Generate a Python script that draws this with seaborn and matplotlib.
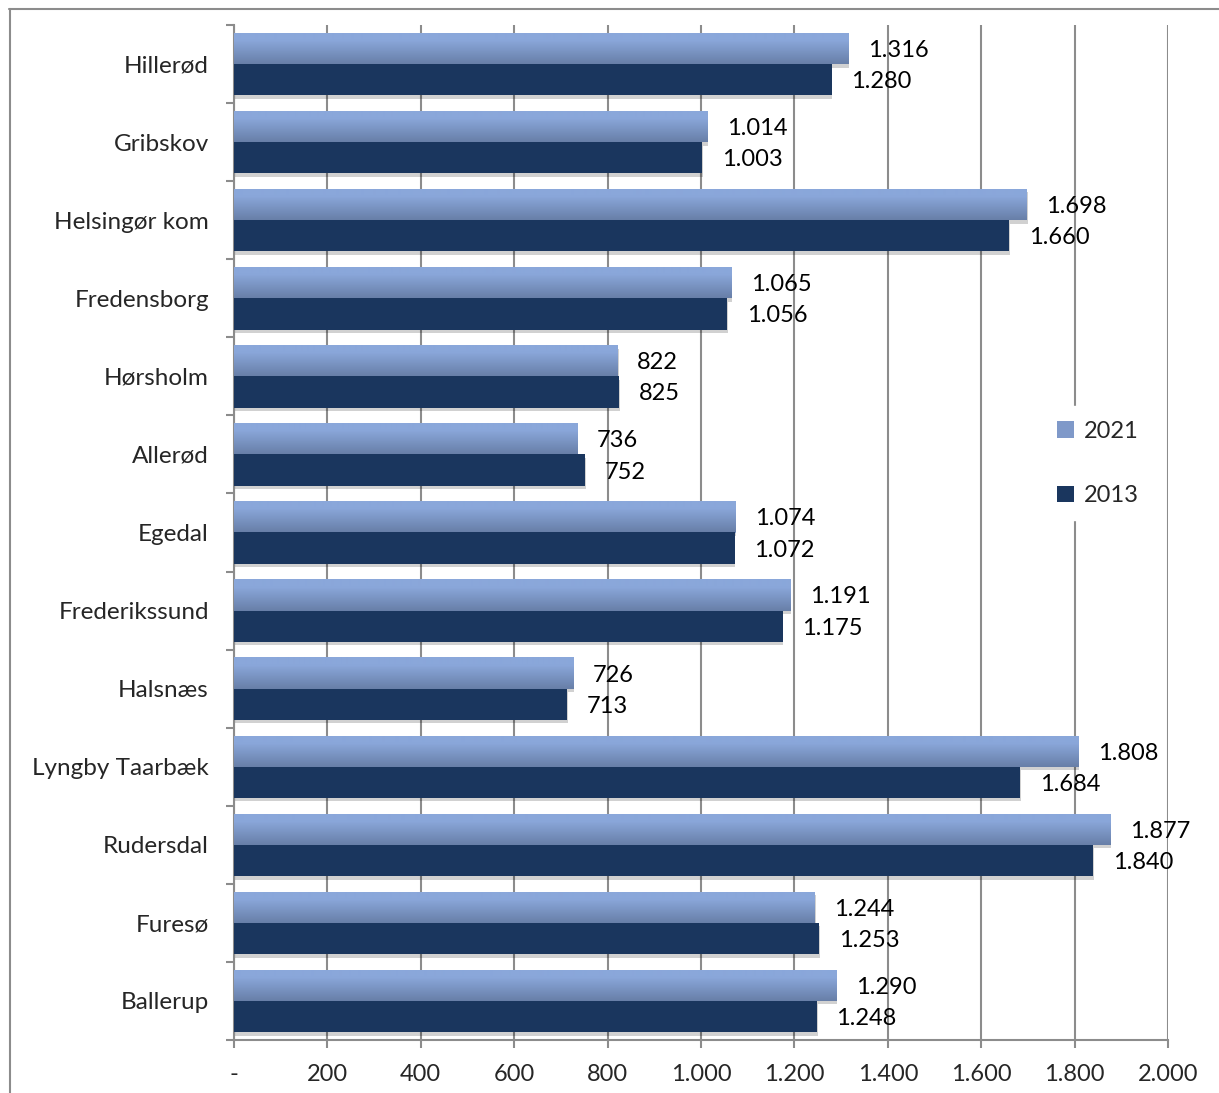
import numpy as np
import pandas as pd
import matplotlib
matplotlib.use("Agg")
import matplotlib.pyplot as plt
import matplotlib.patheffects as pe
from matplotlib.lines import Line2D
from matplotlib.patches import Patch
import seaborn as sns

kommuner = ["Hillerød", "Gribskov", "Helsingør kom", "Fredensborg", "Hørsholm",
            "Allerød", "Egedal", "Frederikssund", "Halsnæs", "Lyngby Taarbæk",
            "Rudersdal", "Furesø", "Ballerup"]
v2021 = [1316, 1014, 1698, 1065, 822, 736, 1074, 1191, 726, 1808, 1877, 1244, 1290]
v2013 = [1280, 1003, 1660, 1056, 825, 752, 1072, 1175, 713, 1684, 1840, 1253, 1248]
series = ["2021", "2013"]
xticks = [0, 200, 400, 600, 800, 1000, 1200, 1400, 1600, 1800, 2000]
xticklabels = ["-", "200", "400", "600", "800", "1.000", "1.200", "1.400", "1.600", "1.800", "2.000"]

df = pd.DataFrame({
    "Kommune": kommuner * 2,
    "År": ["2021"] * len(kommuner) + ["2013"] * len(kommuner),
    "Værdi": v2021 + v2013,
})

sns.set_style("white")
plt.rcParams["font.family"] = ["Lato", "DejaVu Sans"]

W, H = 1219, 1093
fig = plt.figure(figsize=(W / 100, H / 100), dpi=100)
ax = fig.add_axes([234 / W, 1 - 1040 / H, (1168 - 234) / W, (1040 - 25) / H])

dark = "#1a365e"
mid = "#7f99c9"
sns.barplot(data=df, y="Kommune", x="Værdi", hue="År", hue_order=series,
            order=kommuner, palette={"2021": mid, "2013": dark},
            width=0.8, saturation=1, ax=ax, legend=False, zorder=3)

ax.set_xlim(0, 2000)
ax.set_ylim(len(kommuner) - 0.5, -0.5)

# gradient + shadow on bars
top_c = np.array(matplotlib.colors.to_rgb("#8aa7da"))
bot_c = np.array(matplotlib.colors.to_rgb("#687fa8"))
t = np.linspace(0, 1, 64)
t = np.clip((t - 0.25) / 0.75, 0, 1)
grad = (top_c[None, :] * (1 - t[:, None]) + bot_c[None, :] * t[:, None])[:, None, :]

n = len(kommuner)
patches = list(ax.patches)
for i, p in enumerate(patches):
    p.set_path_effects([pe.SimplePatchShadow(offset=(0.5, -2.5), shadow_rgbFace="k", alpha=0.18),
                        pe.Normal()])
    p.set_edgecolor("none")
for p in patches[:n]:
    x0, y0 = p.get_x(), p.get_y()
    w, h = p.get_width(), p.get_height()
    im = ax.imshow(grad, extent=(x0, x0 + w, y0 + h, y0), origin="upper",
                   aspect="auto", zorder=3.5, interpolation="bilinear")
    im.set_clip_path(p)
ax.set_xlim(0, 2000)
ax.set_ylim(len(kommuner) - 0.5, -0.5)

def fmt(v):
    return f"{v:,}".replace(",", ".")

for p in patches:
    w = p.get_width()
    yc = p.get_y() + p.get_height() / 2
    ax.annotate(fmt(int(round(w))), (w, yc), xytext=(14, 0), textcoords="offset points",
                ha="left", va="center_baseline", fontsize=17, color="black", zorder=5)

# axes styling
grid_c = "#8c8c8c"
ax.set_xticks(xticks)
ax.set_xticklabels(xticklabels, fontsize=17)
ax.xaxis.grid(True, color=grid_c, linewidth=1.5, zorder=0)
ax.set_axisbelow(True)
ax.yaxis.grid(False)
for s in ["top", "right"]:
    ax.spines[s].set_visible(False)
for s in ["left", "bottom"]:
    ax.spines[s].set_color(grid_c)
    ax.spines[s].set_linewidth(1.5)
ax.tick_params(axis="x", direction="out", length=6, width=1.5, color=grid_c, pad=11, bottom=True)
ax.set_yticks(range(n))
ax.set_yticklabels(kommuner, fontsize=17.5)
ax.set_yticks(np.arange(-0.5, n, 1), minor=True)
ax.tick_params(axis="y", which="major", length=0, pad=18)
ax.tick_params(axis="y", which="minor", direction="out", length=6, width=1.5, color=grid_c, left=True)
ax.set_xlabel("")
ax.set_ylabel("")

handles = [Patch(facecolor=mid, edgecolor="none", label="2021"),
           Patch(facecolor=dark, edgecolor="none", label="2013")]
leg = ax.legend(handles=handles, loc="center", bbox_to_anchor=(0.925, 0.568),
                fontsize=17, frameon=True, facecolor="white", edgecolor="white",
                framealpha=1, fancybox=False, handlelength=0.7, handleheight=0.7,
                handletextpad=0.4, labelspacing=1.85, borderpad=0.6)
leg.set_zorder(6)

# outer chart border (top and left visible)
fig.add_artist(Line2D([9 / W, 1], [1 - 8.5 / H, 1 - 8.5 / H], transform=fig.transFigure,
                      color="#8c8c8c", linewidth=1.5))
fig.add_artist(Line2D([9.5 / W, 9.5 / W], [0, 1 - 8.5 / H], transform=fig.transFigure,
                      color="#8c8c8c", linewidth=1.5))

fig.savefig("out.png", dpi=100, facecolor="white")
